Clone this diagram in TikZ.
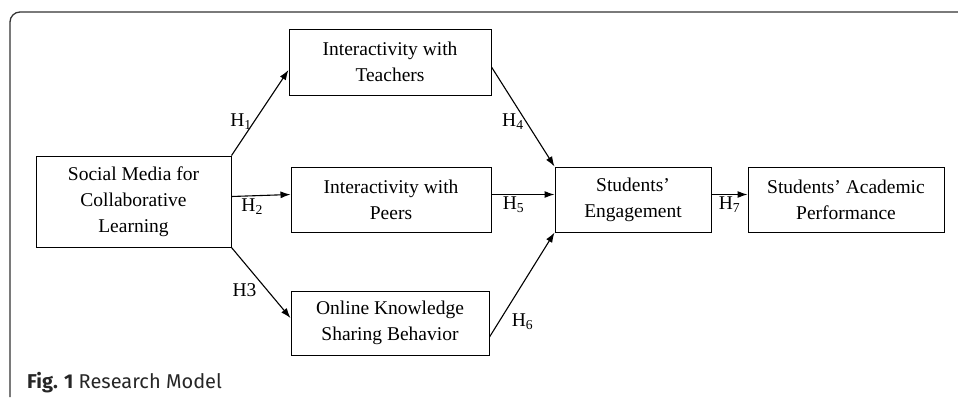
\documentclass[tikz,border=0pt]{standalone}
\usepackage{fontspec}
\usetikzlibrary{arrows.meta}
\setmainfont{Liberation Serif}
\setsansfont{Fira Sans}
\begin{document}
\begin{tikzpicture}[x=1pt,y=-1pt,
    construct/.style={draw, line width=1pt, align=center, inner sep=0pt,
      font=\fontsize{19.5}{26}\selectfont},
    link/.style={draw, line width=1.1pt, -{Latex[length=10pt,width=7pt]}},
    hyp/.style={font=\fontsize{19.5}{22}\selectfont, inner sep=2pt}]
          \useasboundingbox (0,0) rectangle (958,397);
          \draw [line width=1.3pt, black!80, rounded corners=10pt] (958,12) -- (10,12) -- (10,397);

          \node [construct, minimum width=195pt, minimum height=91pt] (sm) at (133.5,201.5) {Social Media for\\Collaborative\\Learning};
          \node [construct, minimum width=202pt, minimum height=66pt] (it) at (390,62) {Interactivity with\\Teachers};
          \node [construct, minimum width=200pt, minimum height=65pt] (ip) at (391,199.5) {Interactivity with\\Peers};
          \node [construct, minimum width=198pt, minimum height=64pt] (ok) at (390,323) {Online Knowledge\\Sharing Behavior};
          \node [construct, minimum width=156pt, minimum height=65pt] (se) at (633,199.5) {Students'\\Engagement};
          \node [construct, minimum width=196pt, minimum height=65pt] (sap) at (846,199.5) {Students' Academic\\Performance};

          \path (sm.north east) edge [link] node [pos=0.4, left, hyp] {H\textsubscript{1}} ([yshift=-8pt]it.west);
          \path ([yshift=5pt]sm.east) edge [link] node [pos=0.35, below, hyp] {H\textsubscript{2}} ([yshift=5pt]ip.west);
          \path (sm.south east) edge [link] node [pos=0.6, left=8pt, hyp] {H3} ([yshift=5pt]ok.west);
          \path ([yshift=-5pt]it.east) edge [link] node [pos=0.55, left, hyp] {H\textsubscript{4}} (se.north west);
          \path ([yshift=5pt]ip.east) edge [link] node [pos=0.35, below, hyp] {H\textsubscript{5}} ([yshift=5pt]se.west);
          \path ([yshift=-14pt]ok.east) edge [link] node [pos=0.15, right=10pt, hyp] {H\textsubscript{6}} (se.south west);
          \path ([yshift=5pt]se.east) edge [link] node [midway, below, hyp] {H\textsubscript{7}} ([yshift=5pt]sap.west);

          \node [anchor=base west, inner sep=0pt, text=black!85, font=\sffamily\fontsize{20}{22}\selectfont] (cap) at (27,388) {\textbf{Fig. 1} Research Model};
          \end{tikzpicture}
\end{document}
